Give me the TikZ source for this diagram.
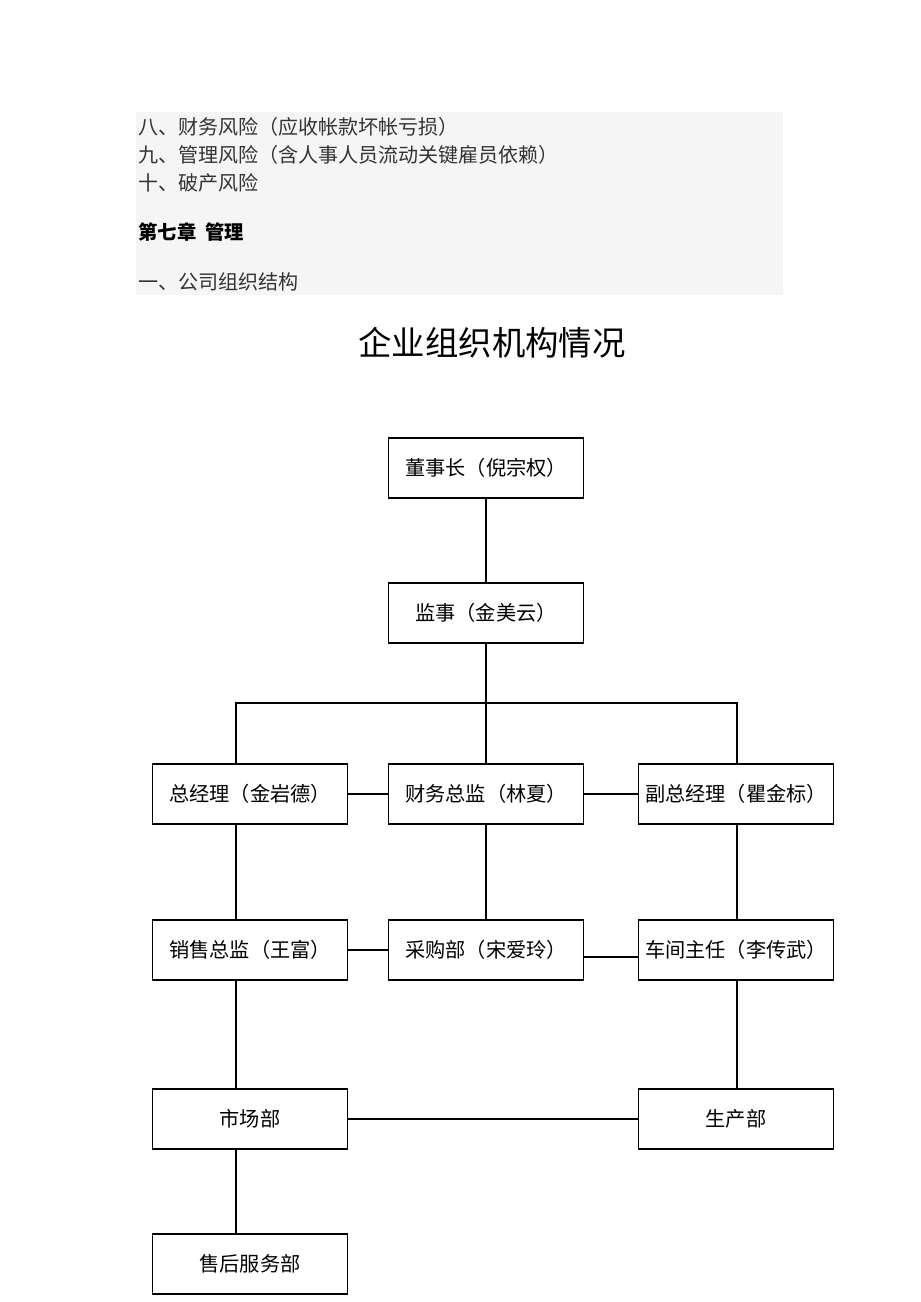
\documentclass[tikz,border=0pt]{standalone}
\usepackage{fontspec}
\newfontfamily\cjk{Noto Sans CJK SC}
\usetikzlibrary{positioning}

\tikzset{
    orgbox/.style={draw, semithick, minimum width=3.9cm, minimum height=1.2cm, inner sep=0pt, font=\cjk\fontsize{11.5}{14}\selectfont},
    para/.style={anchor=west, inner sep=0pt, font=\cjk\fontsize{11.4}{13}\selectfont, text=black!80}
}

\begin{document}
\begin{tikzpicture}[x=0.02cm, y=-0.02cm]
    \useasboundingbox (0,0) rectangle (920,1302);

    % text block above the chart
    \fill[black!4] (136,112) rectangle (783,295);
    \node[para] (l8) at (138,127) {八、财务风险（应收帐款坏帐亏损）};
    \node[para] (l9) at (138,155) {九、管理风险（含人事人员流动关键雇员依赖）};
    \node[para] (l10) at (138,183) {十、破产风险};
    \node[para, font=\cjk\bfseries\fontsize{11}{13}\selectfont, text=black] (ch7) at (138,232) {第七章\ \ 管理};
    \node[para] (l1) at (138,282) {一、公司组织结构};

    \node[font=\cjk\fontsize{19}{22}\selectfont] (title) at (492,343) {企业组织机构情况};

    % boxes
    \node[orgbox] (dsz) at (486,468) {董事长（倪宗权）};
    \node[orgbox] (js) at (486,613) {监事（金美云）};

    \node[orgbox] (zjl) at (250,794) {总经理（金岩德）};
    \node[orgbox] (cwzj) at (486,794) {财务总监（林夏）};
    \node[orgbox] (fzjl) at (736,794) {副总经理（瞿金标）};

    \node[orgbox] (xszj) at (250,950) {销售总监（王富）};
    \node[orgbox] (cgb) at (486,950) {采购部（宋爱玲）};
    \node[orgbox] (cjzr) at (736,950) {车间主任（李传武）};

    \node[orgbox] (scb) at (250,1119) {市场部};
    \node[orgbox] (sccb) at (736,1119) {生产部};

    \node[orgbox] (shfw) at (250,1264) {售后服务部};

    % lines
    \coordinate (split) at (486,703);
    \draw[semithick] (dsz) -- (js);
    \draw[semithick] (js) -- (split);
    \draw[semithick] (zjl.north -| 236,0) |- (split) -| (fzjl.north -| 737,0);
    \draw[semithick] (split) -- (cwzj);

    \draw[semithick] (zjl) -- (cwzj);
    \draw[semithick] (cwzj) -- (fzjl);

    \draw[semithick] (zjl.south -| 236,0) -- (xszj.north -| 236,0);
    \draw[semithick] (cwzj) -- (cgb);
    \draw[semithick] (fzjl.south -| 737,0) -- (cjzr.north -| 737,0);

    \draw[semithick] (xszj) -- (cgb);
    \draw[semithick] ([yshift=-0.14cm]cgb.east) -- ([yshift=-0.14cm]cjzr.west);

    \draw[semithick] (xszj.south -| 236,0) -- (scb.north -| 236,0);
    \draw[semithick] (cjzr.south -| 737,0) -- (sccb.north -| 737,0);
    \draw[semithick] (scb) -- (sccb);
    \draw[semithick] (scb.south -| 236,0) -- (shfw.north -| 236,0);
\end{tikzpicture}
\end{document}
